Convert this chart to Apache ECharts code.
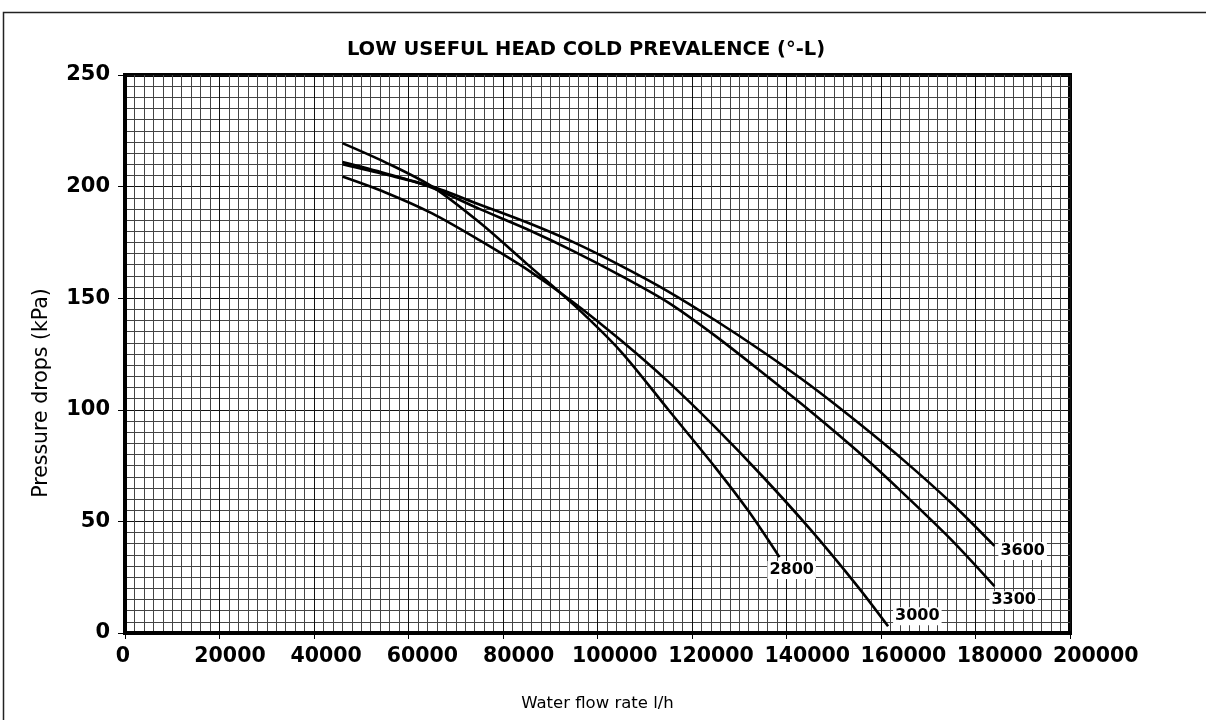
<!DOCTYPE html>
<html>
<head>
<meta charset="utf-8">
<script src="https://cdn.jsdelivr.net/npm/echarts@6/dist/echarts.min.js"></script>
<style>
  html, body { margin: 0; padding: 0; background: #fff; }
  #chart { width: 1206px; height: 720px; }
</style>
</head>
<body>
<div id="chart"></div>
<script>
// unit speeds, one curve each
var curveNames = ['2800', '3000', '3300', '3600']

// flow rate (l/h) / pressure drop (kPa)
var flow2800 = [46000, 55000, 65000, 75000, 85000, 95000, 105000, 115000, 125000, 132000, 138500]
var drop2800 = [219.5, 211, 200, 184, 165.5, 147, 126, 100, 74, 54.5, 34]

var flow3000 = [46000, 55000, 65000, 75000, 85000, 95000, 105000, 115000, 125000, 135000, 145000, 155000, 161500]
var drop3000 = [204.5, 197.5, 188, 176, 163, 148, 131, 112.5, 92, 70, 46.5, 21, 3]

var flow3300 = [46000, 55000, 65000, 75000, 85000, 95000, 105000, 115000, 125000, 135000, 145000, 155000, 165000, 175000, 184000]
var drop3300 = [211, 206, 199.5, 190, 181, 171, 160, 148, 133, 116.5, 99.5, 81.5, 62, 41.5, 21]

var flow3600 = [46000, 55000, 65000, 75000, 85000, 95000, 105000, 115000, 125000, 135000, 145000, 155000, 165000, 175000, 184000]
var drop3600 = [210, 205.5, 200, 192, 184, 175, 164.5, 153, 140, 126, 111, 94.5, 77, 58, 39]

var flows = [flow2800, flow3000, flow3300, flow3600]
var drops = [drop2800, drop3000, drop3300, drop3600]
// where each curve's label sits relative to its last point
var labelOffsets = [[-20, 13], [-3, -10], [-13, 14], [-4, 5]]

var chart = echarts.init(document.getElementById('chart'))

// the flow labels drift right of their ticks a little more each step
var xRich = {}
for (var k = 0; k <= 10; k++) {
  var shift = k === 0 ? -2 : 10.5 + (k - 1) * 1.7
  xRich['p' + k] = {
    color: '#000',
    fontFamily: 'DejaVu Sans',
    fontWeight: 'bold',
    fontSize: 20.5,
    padding: shift >= 0 ? [0, 0, 0, shift * 2] : [0, -shift * 2, 0, 0]
  }
}

var series = curveNames.map(function (name, i) {
  return {
    name: name,
    type: 'line',
    symbol: 'none',
    smooth: 0.3,
    lineStyle: { color: '#000', width: 2.6 },
    data: flows[i].map(function (f, j) { return [f, drops[i][j]] }),
    endLabel: {
      show: true,
      formatter: name,
      offset: labelOffsets[i],
      color: '#000',
      fontFamily: 'DejaVu Sans',
      fontWeight: 'bold',
      fontSize: 16,
      backgroundColor: '#fff',
      padding: [1, 2]
    },
    z: 5
  }
})

chart.setOption({
  animation: false,
  backgroundColor: '#fff',
  title: {
    text: 'LOW USEFUL HEAD COLD PREVALENCE (°-L)',
    left: 581,
    top: 35,
    textAlign: 'center',
    textStyle: { color: '#000', fontFamily: 'DejaVu Sans', fontWeight: 'bold', fontSize: 19.5 }
  },
  grid: {
    left: 125,
    right: 136,
    top: 75,
    bottom: 87,
    show: true,
    borderColor: '#000',
    borderWidth: 4,
    backgroundColor: 'transparent'
  },
  xAxis: {
    type: 'value',
    min: 0,
    max: 200000,
    interval: 20000,
    name: 'Water flow rate l/h',
    nameLocation: 'middle',
    nameGap: 62,
    nameTextStyle: { color: '#000', fontFamily: 'DejaVu Sans', fontSize: 16.5 },
    axisLine: { show: true, lineStyle: { color: '#000', width: 4 } },
    axisTick: { show: true, length: 6, lineStyle: { color: '#000', width: 1 } },
    axisLabel: {
      margin: 13,
      showMinLabel: true,
      showMaxLabel: true,
      hideOverlap: false,
      formatter: function (v) { return '{p' + Math.round(v / 20000) + '|' + v + '}' },
      rich: xRich
    },
    splitLine: { show: true, lineStyle: { color: '#111', width: 1 } },
    minorTick: { show: false, splitNumber: 10 },
    minorSplitLine: { show: true, lineStyle: { color: '#444', width: 1 } }
  },
  yAxis: {
    type: 'value',
    min: 0,
    max: 250,
    interval: 50,
    axisLine: { show: true, lineStyle: { color: '#000', width: 4 } },
    axisTick: { show: true, length: 7, lineStyle: { color: '#000', width: 1 } },
    axisLabel: { color: '#000', fontFamily: 'DejaVu Sans', fontWeight: 'bold', fontSize: 21, margin: 15 },
    splitLine: { show: true, lineStyle: { color: '#111', width: 1 } },
    minorTick: { show: false, splitNumber: 10 },
    minorSplitLine: { show: true, lineStyle: { color: '#444', width: 1 } }
  },
  graphic: [
    {
      type: 'rect',
      shape: { x: 3.5, y: 12.5, width: 1400, height: 900 },
      style: { fill: 'none', stroke: '#222', lineWidth: 1.5 },
      silent: true
    },
    {
      type: 'text',
      x: 42,
      y: 393,
      rotation: Math.PI / 2,
      style: {
        text: 'Pressure drops (kPa)',
        fill: '#000',
        font: '20.5px "DejaVu Sans"',
        textAlign: 'center',
        textVerticalAlign: 'middle'
      }
    }
  ],
  series: series
})
</script>
</body>
</html>
